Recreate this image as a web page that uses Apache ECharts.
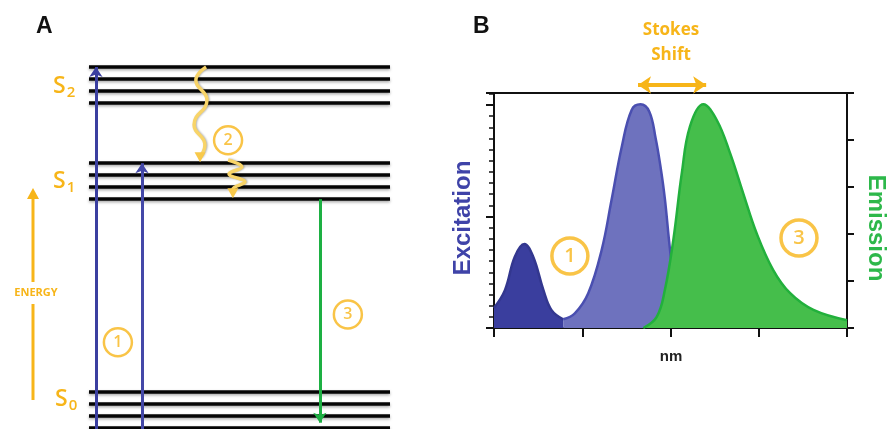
<!DOCTYPE html>
<html>
<head>
<meta charset="utf-8">
<script src="https://cdn.jsdelivr.net/npm/echarts@6/dist/echarts.min.js"></script>
<style>
  html, body { margin: 0; padding: 0; background: #fff; }
  #main { width: 887px; height: 429px; }
</style>
</head>
<body>
<div id="main"></div>
<script>
// panel A: energy levels (units of vibrational spacing), x in % of level width
var levelsS0 = [0, 1, 2, 3];
var levelsS1 = [19, 20, 21, 22];
var levelsS2 = [27, 28, 29, 30];
var levelSpan = [0, 100];

// straight transitions [x, yFrom, yTo]
var absorptionS2 = [2.3, -0.2, 30];
var absorptionS1 = [17.6, -0.2, 22];
var fluorescence = [76.7, 19, 0.4];

// relaxation wiggles
var relaxS2toS1 = [[38.9, 30.0], [35.5, 28.9], [39.2, 27.25], [34.9, 25.2], [38.5, 23.5], [36.9, 22.5]];
var relaxS1 = [[46.2, 22.26], [50.8, 21.68], [46.5, 21.1], [51.8, 20.43], [47.8, 19.84], [47.8, 19.5]];

// numbered markers
var markersA = [[9.6, 7.1, '1'], [46.2, 23.9, '2'], [86.0, 9.4, '3']];
var markersB = [[21.5, 32.3, '1'], [86.4, 40.4, '3']];

// panel B: spectra (x: nm scale 0-100, y: intensity)
var excitationDark = [[0, 9], [3.1, 17], [5.9, 32], [8.6, 37.7], [11.1, 32], [14, 17], [16.3, 8], [19.6, 3.9]];
var excitationLight = [[19.6, 3.9], [22.9, 6.6], [26.7, 15.6], [30.5, 35], [33.3, 57.4], [36.2, 81.3], [39, 97.8],
  [41.5, 100.3], [44, 97], [45.8, 85], [47.2, 72], [48.4, 58], [49.8, 36], [51.2, 18], [53.2, 5], [56, 0.5]];
var emission = [[42.3, 0], [46.1, 5], [48.4, 17], [50.8, 39.5], [53.2, 69.4], [55.5, 90.3], [59.3, 100.3],
  [63.1, 93.3], [66.9, 78.3], [70.6, 60.4], [74.4, 42.5], [79.1, 26], [83.9, 15.6], [90.5, 8.1], [100, 3.5]];
var stokesShift = [[40.8, 109], [60.1, 109]];

var ORANGE = '#F7B519';
var BLUE = '#3B3FA0';
var GREEN = '#1DB043';

var chart = echarts.init(document.getElementById('main'));

function wiggle(points) {
    return points.map(function (p, i) {
        if (i === points.length - 1) {
            return {value: p, symbol: 'triangle', symbolSize: [11, 10], symbolRotate: 180};
        }
        return {value: p, symbol: 'none'};
    });
}

function stateLabel(sub, left, top) {
    return {
        type: 'text', left: left, top: top, style: {
            text: '{s|S}{n|' + sub + '}',
            rich: {
                s: {fontSize: 23, fill: ORANGE, fontFamily: 'Open Sans', fontWeight: 600},
                n: {fontSize: 15, fill: ORANGE, fontFamily: 'Open Sans', fontWeight: 600, padding: [12, 0, 0, 1]}
            }
        }
    };
}

var allLevels = levelsS0.concat(levelsS1, levelsS2);
var axisBlack = {color: '#111', width: 2};

var option = {
    animation: false,
    textStyle: {fontFamily: 'Liberation Sans'},
    grid: [
        {left: 89, right: 497, top: 67, bottom: 1.5},
        {left: 494, right: 40, top: 93, bottom: 101}
    ],
    xAxis: [
        {gridIndex: 0, type: 'value', min: 0, max: 100, show: false},
        {
            gridIndex: 1, type: 'value', min: 0, max: 100, interval: 25, position: 'bottom',
            axisLine: {onZero: false, lineStyle: axisBlack},
            axisTick: {length: 9, lineStyle: axisBlack},
            axisLabel: {show: false}, splitLine: {show: false}
        },
        {
            gridIndex: 1, type: 'value', min: 0, max: 100, position: 'top',
            axisLine: {onZero: false, lineStyle: axisBlack},
            axisTick: {show: false}, axisLabel: {show: false}, splitLine: {show: false}
        }
    ],
    yAxis: [
        {gridIndex: 0, type: 'value', min: 0, max: 30, show: false},
        {
            gridIndex: 1, type: 'value', min: 0, max: 105.4, interval: 50, position: 'left',
            axisLine: {show: true, onZero: false, lineStyle: axisBlack},
            axisTick: {show: true, length: 8, lineStyle: axisBlack},
            minorTick: {show: true, splitNumber: 10, length: 5, lineStyle: {color: '#111', width: 1.5}},
            axisLabel: {show: false}, splitLine: {show: false}
        },
        {
            gridIndex: 1, type: 'value', min: 0, max: 5, interval: 1, position: 'right',
            axisLine: {show: true, onZero: false, lineStyle: axisBlack},
            axisTick: {show: true, length: 7, lineStyle: axisBlack},
            axisLabel: {show: false}, splitLine: {show: false}
        }
    ],
    series: [
        {
            type: 'lines', coordinateSystem: 'cartesian2d', xAxisIndex: 0, yAxisIndex: 0,
            silent: true, clip: false, z: 2,
            data: allLevels.map(function (e) {
                return {coords: [[levelSpan[0], e], [levelSpan[1], e]]};
            }),
            lineStyle: {color: '#050505', width: 3.5, opacity: 1, shadowColor: 'rgba(0,0,0,0.35)', shadowBlur: 3, shadowOffsetY: 1.5}
        },
        {
            type: 'lines', coordinateSystem: 'cartesian2d', xAxisIndex: 0, yAxisIndex: 0,
            silent: true, clip: false, z: 3,
            symbol: ['none', 'arrow'], symbolSize: 10,
            data: [
                {coords: [[absorptionS2[0], absorptionS2[1]], [absorptionS2[0], absorptionS2[2]]], lineStyle: {color: BLUE}},
                {coords: [[absorptionS1[0], absorptionS1[1]], [absorptionS1[0], absorptionS1[2]]], lineStyle: {color: '#4448A8'}},
                {coords: [[fluorescence[0], fluorescence[1]], [fluorescence[0], fluorescence[2]]], lineStyle: {color: GREEN}}
            ],
            lineStyle: {width: 3, opacity: 1}
        },
        {
            type: 'line', xAxisIndex: 0, yAxisIndex: 0, smooth: 0.5, z: 4, silent: true,
            data: wiggle(relaxS2toS1),
            lineStyle: {color: '#F8D468', width: 3.5, shadowColor: 'rgba(0,0,0,0.3)', shadowBlur: 2, shadowOffsetX: 1},
            itemStyle: {color: '#F8C94A'}
        },
        {
            type: 'line', xAxisIndex: 0, yAxisIndex: 0, smooth: 0.4, z: 4, silent: true,
            data: wiggle(relaxS1),
            lineStyle: {color: '#F8D468', width: 3.5, shadowColor: 'rgba(0,0,0,0.3)', shadowBlur: 2, shadowOffsetX: 1},
            itemStyle: {color: '#F8C94A'}
        },
        {
            type: 'scatter', xAxisIndex: 0, yAxisIndex: 0, z: 5, silent: true,
            data: markersA, symbolSize: 28,
            itemStyle: {color: 'rgba(255,255,255,0)', borderColor: ORANGE, borderWidth: 2.5},
            label: {show: true, position: 'inside', formatter: function (p) { return p.value[2]; },
                color: ORANGE, fontSize: 16, fontWeight: 600, fontFamily: 'Open Sans'}
        },
        {
            type: 'line', xAxisIndex: 1, yAxisIndex: 1, smooth: 0.4, symbol: 'none', z: 2,
            data: excitationDark,
            lineStyle: {color: '#33378F', width: 2.5},
            areaStyle: {color: '#3A3E9E', opacity: 1}
        },
        {
            type: 'line', xAxisIndex: 1, yAxisIndex: 1, smooth: 0.4, symbol: 'none', z: 2,
            data: excitationLight,
            lineStyle: {color: '#4A4FB0', width: 2.5},
            areaStyle: {color: '#6E72BE', opacity: 1}
        },
        {
            type: 'line', xAxisIndex: 1, yAxisIndex: 1, smooth: 0.4, symbol: 'none', z: 3,
            data: emission,
            lineStyle: {color: '#22B03C', width: 2.5},
            areaStyle: {color: '#45BE4B', opacity: 1}
        },
        {
            type: 'lines', coordinateSystem: 'cartesian2d', xAxisIndex: 1, yAxisIndex: 1,
            silent: true, clip: false, z: 4,
            symbol: ['arrow', 'arrow'], symbolSize: 13,
            data: [{coords: stokesShift}],
            lineStyle: {color: ORANGE, width: 4, opacity: 1}
        },
        {
            type: 'scatter', xAxisIndex: 1, yAxisIndex: 1, z: 5, silent: true,
            data: markersB, symbolSize: 36,
            itemStyle: {color: 'rgba(255,255,255,0)', borderColor: ORANGE, borderWidth: 3.5},
            label: {show: true, position: 'inside', formatter: function (p) { return p.value[2]; },
                color: ORANGE, fontSize: 20, fontWeight: 600, fontFamily: 'Open Sans'}
        }
    ],
    graphic: [
        {type: 'text', left: 36, top: 15, style: {text: 'A', font: 'bold 23px "Liberation Sans"', fill: '#111'}},
        {type: 'text', left: 473, top: 15, style: {text: 'B', font: 'bold 23px "Liberation Sans"', fill: '#111'}},
        stateLabel('2', 53, 75),
        stateLabel('1', 53, 170),
        stateLabel('0', 55, 388),
        // energy axis
        {type: 'line', shape: {x1: 33, y1: 400, x2: 33, y2: 304}, style: {stroke: ORANGE, lineWidth: 3}},
        {type: 'line', shape: {x1: 33, y1: 282, x2: 33, y2: 197}, style: {stroke: ORANGE, lineWidth: 3}},
        {type: 'polygon', shape: {points: [[27, 199], [39, 199], [33, 188]]}, style: {fill: ORANGE}},
        {type: 'text', x: 36, y: 293, style: {text: 'ENERGY', font: 'bold 11px "Open Sans"', fill: ORANGE, align: 'center', verticalAlign: 'middle'}},
        // panel B texts
        {type: 'text', x: 671, y: 30, style: {text: 'Stokes', font: 'bold 17px "Open Sans"', fill: ORANGE, align: 'center', verticalAlign: 'middle'}},
        {type: 'text', x: 671, y: 55, style: {text: 'Shift', font: 'bold 17px "Open Sans"', fill: ORANGE, align: 'center', verticalAlign: 'middle'}},
        {type: 'text', x: 671, y: 357, style: {text: 'nm', font: 'bold 15px "Liberation Sans"', fill: '#222', align: 'center', verticalAlign: 'middle'}},
        {type: 'text', x: 463, y: 218, rotation: Math.PI / 2, style: {text: 'Excitation', font: 'bold 24px "Liberation Sans"', fill: '#3F43A8', align: 'center', verticalAlign: 'middle'}},
        {type: 'text', x: 876, y: 228, rotation: -Math.PI / 2, style: {text: 'Emission', font: 'bold 24px "Liberation Sans"', fill: '#2DB84A', align: 'center', verticalAlign: 'middle'}}
    ]
};

chart.setOption(option);
</script>
</body>
</html>
